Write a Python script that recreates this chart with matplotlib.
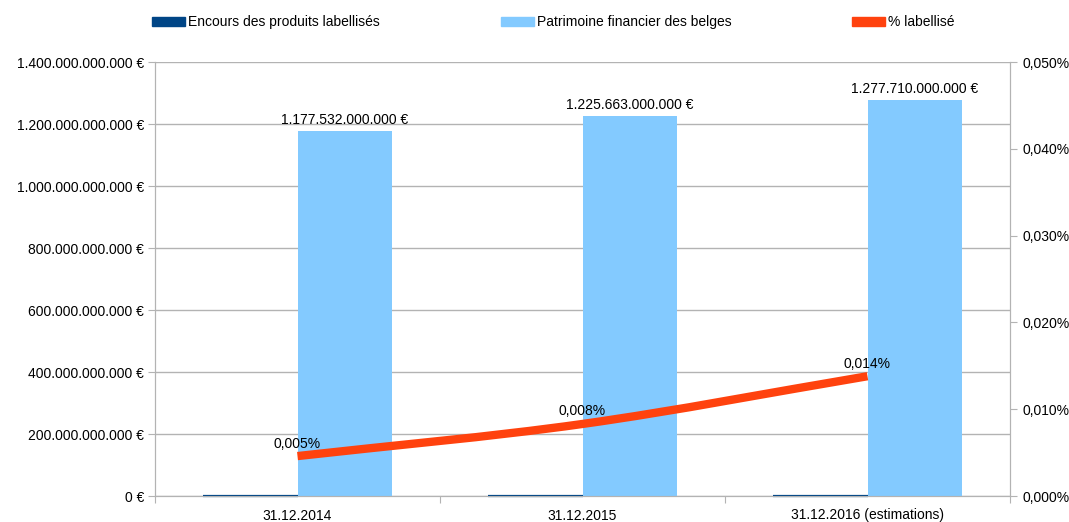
import matplotlib
matplotlib.use("Agg")
import matplotlib.pyplot as plt
import numpy as np
from matplotlib.path import Path
from matplotlib.patches import PathPatch, Patch

plt.rcParams['font.family'] = ['Liberation Sans', 'DejaVu Sans']
plt.rcParams['font.size'] = 10

categories = ['31.12.2014', '31.12.2015', '31.12.2016 (estimations)']
patrimoine = [1177532000000, 1225663000000, 1277710000000]
pct_labellise = [0.0046, 0.0083, 0.0138]   # en %
encours = [p * v / 100 for p, v in zip(patrimoine, pct_labellise)]

dark_blue = '#004586'
light_blue = '#83caff'
orange = '#ff420e'
grid_gray = '#b3b3b3'


def euro(v, pos=None):
    if v == 0:
        return '0 €'
    return f"{v:,.0f}".replace(',', '.') + ' €'


fig = plt.figure(figsize=(10.69, 5.22), dpi=100)
ax = fig.add_axes([155 / 1069, 1 - 496 / 522, 855 / 1069, 434 / 522])
ax2 = ax.twinx()

x = np.arange(len(categories))
w = 0.33
ax.bar(x - w / 2, encours, w, color=dark_blue, edgecolor=dark_blue, linewidth=1.6,
       zorder=5, clip_on=False)
bars = ax.bar(x + w / 2, patrimoine, w, color=light_blue, zorder=3)
for b, v in zip(bars, patrimoine):
    ax.annotate(euro(v), (b.get_x() + b.get_width() / 2, v), xytext=(0, 3),
                textcoords='offset points', ha='center', va='bottom', fontsize=10)

ax.set_xlim(-0.5, len(categories) - 0.5)
ax.set_ylim(0, 1.4e12)
ax.set_yticks(np.arange(0, 1.4e12 + 1, 2e11))
ax.yaxis.set_major_formatter(plt.FuncFormatter(euro))
ax.set_xticks(np.arange(-0.5, len(categories), 1.0))
ax.set_xticklabels([])
ax.set_xticks(x, minor=True)
ax.set_xticklabels(categories, minor=True)
ax.tick_params(axis='x', which='minor', length=0, pad=9)
ax.tick_params(axis='x', which='major', length=5, color=grid_gray)
ax.tick_params(axis='y', length=5, color=grid_gray, pad=3)
ax.grid(axis='y', color=grid_gray, linewidth=1, zorder=0)
ax.set_axisbelow(True)

# smoothed line (catmull-rom bezier through the points)
pts = np.column_stack([x, pct_labellise]).astype(float)
tang = np.zeros_like(pts)
tang[0] = pts[1] - pts[0]
tang[-1] = pts[-1] - pts[-2]
for i in range(1, len(pts) - 1):
    tang[i] = (pts[i + 1] - pts[i - 1]) / 2
verts = [pts[0]]
codes = [Path.MOVETO]
for i in range(len(pts) - 1):
    verts += [pts[i] + tang[i] / 3, pts[i + 1] - tang[i + 1] / 3, pts[i + 1]]
    codes += [Path.CURVE4] * 3
ax2.add_patch(PathPatch(Path(verts, codes), facecolor='none', edgecolor=orange,
                        linewidth=6, capstyle='butt', joinstyle='round', zorder=4))
for xi, v in zip(x, pct_labellise):
    ax2.annotate(f"{v:.3f}%".replace('.', ','), (xi, v), xytext=(0, 4),
                 textcoords='offset points', ha='center', va='bottom', fontsize=10)
ax2.set_ylim(0, 0.05)
ax2.set_yticks(np.arange(0, 0.0501, 0.01))
ax2.yaxis.set_major_formatter(plt.FuncFormatter(lambda v, p: f"{v:.3f}%".replace('.', ',')))
ax2.tick_params(axis='y', length=5, color=grid_gray, pad=4)

for a in (ax, ax2):
    a.spines['top'].set_visible(False)
    for s in ('left', 'right', 'bottom'):
        a.spines[s].set_color(grid_gray)

handles = [Patch(color=dark_blue), Patch(color=light_blue), Patch(color=orange)]
labels = ['Encours des produits labellisés', 'Patrimoine financier des belges', '% labellisé']
for h, l, xpos in zip(handles, labels, [145, 494, 845]):
    fig.legend([h], [l], loc='center left', bbox_to_anchor=(xpos / 1069, 1 - 22 / 522),
               frameon=False, handlelength=2.4, handleheight=0.6, handletextpad=0.2,
               borderpad=0, fontsize=10)

fig.savefig('out.png', dpi=100)
